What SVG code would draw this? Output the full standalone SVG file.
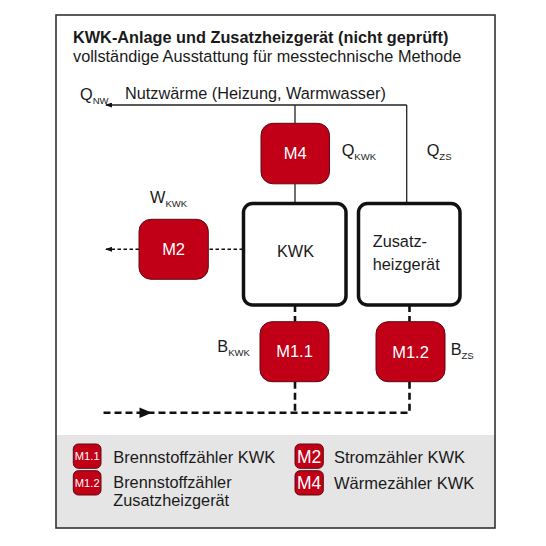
<svg xmlns="http://www.w3.org/2000/svg" width="546" height="546" viewBox="0 0 546 546">
<style>
text{font-family:"Liberation Sans",Arial,sans-serif;fill:#1a1a1a}
.t{font-size:16.3px}
.b{font-weight:bold}
.s{font-size:9.5px}
.m{fill:#c10018;stroke:#5e0a10;stroke-width:1}
.mt{fill:#fff;font-size:16.5px;text-anchor:middle}
.lt{fill:#fff;font-size:11.2px;text-anchor:middle}
.box{fill:#fff;stroke:#111;stroke-width:3.5}
.ln{fill:none;stroke:#222;stroke-width:1.3}
.d1{fill:none;stroke:#111;stroke-width:1.6;stroke-dasharray:3.5 2.5}
.d2{fill:none;stroke:#111;stroke-width:2.6;stroke-dasharray:7 4}
.lg{font-size:16.3px}
</style>
<defs>
<marker id="ah" markerWidth="7" markerHeight="5" refX="6" refY="2.5" orient="auto" markerUnits="userSpaceOnUse">
<path d="M0,0 L7,2.5 L0,5 z" fill="#111"/>
</marker>
</defs>
<rect x="0" y="0" width="546" height="546" fill="#fff"/>
<rect x="56" y="435" width="439" height="93" fill="#e5e5e5"/>
<rect x="56" y="15" width="439" height="513" fill="none" stroke="#333" stroke-width="1.6"/>
<g id="title">
<text class="t b" x="73" y="43">KWK-Anlage und Zusatzheizgerät (nicht geprüft)</text>
<text class="t" x="73" y="62">vollständige Ausstattung für messtechnische Methode</text>
</g>
<g id="connectors">
<path class="ln" d="M406.7,105 H106" marker-end="url(#ah)"/>
<path class="ln" d="M295,105 V123"/>
<path class="ln" d="M295,184 V203"/>
<path class="ln" d="M406.7,105 V203"/>
<path class="d1" d="M243,249.3 H208"/>
<path class="d1" d="M139,249.3 H106" marker-end="url(#ah)"/>
<path class="d2" d="M295,305 V321.7"/>
<path class="d2" d="M409.5,305 V321.7"/>
<path class="d2" d="M295,381.7 V412.7"/>
<path class="d2" d="M409.5,381.7 V412.7 H103"/>
<path d="M139.5,407.5 L152,412.7 L139.5,417.9 z" fill="#111"/>
</g>
<g id="labels">
<text class="t" x="80" y="100">Q<tspan class="s" dy="3.5">NW</tspan></text>
<text class="t" x="125" y="99">Nutzwärme (Heizung, Warmwasser)</text>
<text class="t" x="341.7" y="156">Q<tspan class="s" dy="3.5">KWK</tspan></text>
<text class="t" x="426.7" y="156">Q<tspan class="s" dy="3.5">ZS</tspan></text>
<text class="t" x="150" y="203">W<tspan class="s" dy="3.5">KWK</tspan></text>
<text class="t" x="217.3" y="352">B<tspan class="s" dy="3.5">KWK</tspan></text>
<text class="t" x="450.7" y="355">B<tspan class="s" dy="3.5">ZS</tspan></text>
</g>
<g id="M4">
<rect class="m" x="261" y="123.3" width="68.5" height="60.5" rx="12"/>
<text class="mt" x="295.2" y="159">M4</text>
</g>
<g id="M2">
<rect class="m" x="139" y="219.3" width="69.3" height="60" rx="12"/>
<text class="mt" x="173.6" y="255">M2</text>
</g>
<g id="KWK">
<rect class="box" x="243.5" y="203.5" width="102.5" height="101.5" rx="9"/>
<text class="t" x="295.5" y="257" text-anchor="middle">KWK</text>
</g>
<g id="Zusatzheizgeraet">
<rect class="box" x="358.5" y="203.5" width="101.5" height="101.5" rx="9"/>
<text class="t" x="372.7" y="247">Zusatz-</text>
<text class="t" x="372.7" y="270">heizgerät</text>
</g>
<g id="M1.1">
<rect class="m" x="260" y="321.7" width="69" height="60" rx="12"/>
<text class="mt" x="294.5" y="357">M1.1</text>
</g>
<g id="M1.2">
<rect class="m" x="376" y="321.7" width="69" height="60" rx="12"/>
<text class="mt" x="410.5" y="358">M1.2</text>
</g>
<g id="legend">
<rect class="m" x="73.3" y="444" width="27.7" height="24.3" rx="5"/>
<text class="lt" x="87.2" y="460">M1.1</text>
<rect class="m" x="73.3" y="470.7" width="27.7" height="24.3" rx="5"/>
<text class="lt" x="87.2" y="486.5">M1.2</text>
<text class="t lg" x="113.3" y="463" style="font-size:16.5px">Brennstoffzähler KWK</text>
<text class="t lg" x="113.3" y="488">Brennstoffzähler</text>
<text class="t lg" x="113.3" y="506">Zusatzheizgerät</text>
<rect class="m" x="295" y="444" width="28.3" height="24.3" rx="5"/>
<text class="mt" x="309.2" y="462.5" style="font-size:17.5px">M2</text>
<rect class="m" x="295" y="470.7" width="28.3" height="24.3" rx="5"/>
<text class="mt" x="309.2" y="489" style="font-size:17.5px">M4</text>
<text class="t" x="334" y="463" style="font-size:16.5px">Stromzähler KWK</text>
<text class="t" x="334" y="489" style="font-size:16.5px">Wärmezähler KWK</text>
</g>
</svg>
